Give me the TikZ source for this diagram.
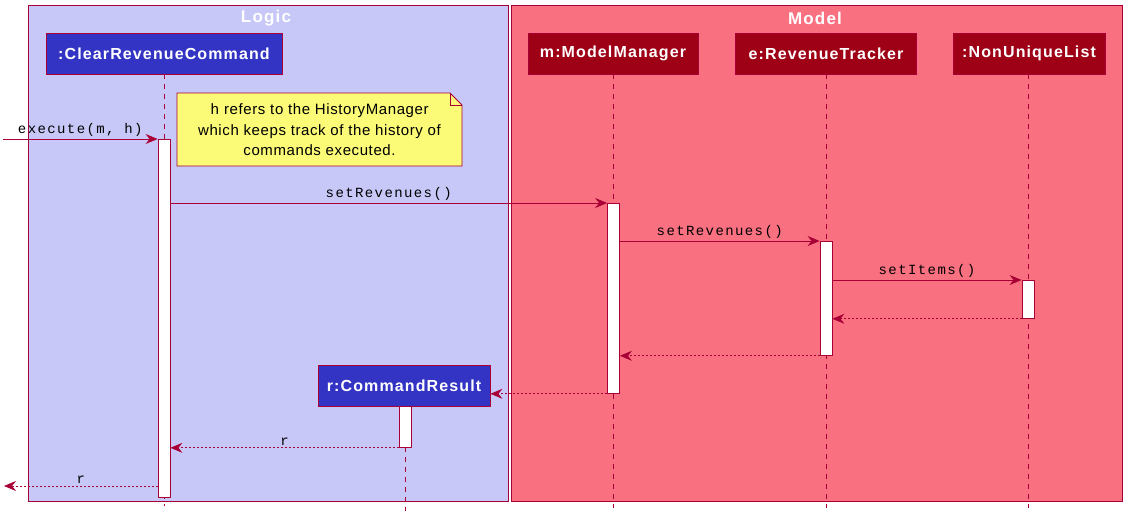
\documentclass[tikz,border=0pt]{standalone}
\usepackage{fontspec}
\setmainfont{Liberation Sans}
\newfontfamily\msgfont[LetterSpace=10]{Liberation Mono}
\newfontfamily\plainmono{Liberation Mono}
\newfontfamily\partfont[LetterSpace=7]{Liberation Sans}
\newfontfamily\notefont[LetterSpace=4]{Liberation Sans}
\usetikzlibrary{arrows.meta}
\definecolor{crim}{HTML}{A80036}
\definecolor{logicbg}{HTML}{C8C8F8}
\definecolor{modelbg}{HTML}{F97181}
\definecolor{partblue}{HTML}{3333C4}
\definecolor{partred}{HTML}{9E0016}
\definecolor{notey}{HTML}{FBFB77}
\tikzset{
  grp/.style={draw=crim, line width=0.8pt},
  grptitle/.style={text=white, font=\partfont\fontsize{17}{19}\selectfont\bfseries, inner sep=0pt},
  part/.style={draw=crim, line width=0.8pt, text=white, font=\partfont\fontsize{16}{18}\selectfont\bfseries, minimum height=41pt, inner sep=0pt},
  life/.style={draw=crim, line width=0.7pt, dash pattern=on 5pt off 5pt},
  act/.style={draw=crim, fill=white, line width=0.8pt, minimum width=12pt, inner sep=0pt, anchor=north},
  tip/.style={-{Stealth[length=12pt,width=10pt,inset=4pt]}},
  msg/.style={draw=crim, line width=0.8pt, tip},
  ret/.style={draw=crim, line width=0.8pt, tip, dash pattern=on 2pt off 2pt},
  lbl/.style={font=\msgfont\fontsize{14}{16}\selectfont, inner sep=2pt, text=black},
  notetext/.style={font=\notefont\fontsize{15}{20.5}\selectfont, align=center, inner sep=0pt}
}
\begin{document}
\begin{tikzpicture}[x=1pt,y=-1pt]
\useasboundingbox (0,0) rectangle (1135,522);
% groups
\path[grp, fill=logicbg] (28,5) rectangle (508,501);
\path[grp, fill=modelbg] (511,5) rectangle (1122,501);
\node[grptitle] (tlogic) at (266,18) {Logic};
\node[grptitle] (tmodel) at (815,18) {Model};
% participants
\node[part, fill=partblue, minimum width=236pt] (crc) at (164,53.5) {:ClearRevenueCommand};
\node[part, fill=partred, minimum width=170pt] (mm) at (613,53.5) {m:ModelManager};
\node[part, fill=partred, minimum width=181pt] (rt) at (826,53.5) {e:RevenueTracker};
\node[part, fill=partred, minimum width=152pt] (nul) at (1029,53.5) {:NonUniqueList};
\node[part, fill=partblue, minimum width=172pt] (cr) at (404,386) {r:CommandResult};
% lifeline ends
\coordinate (crcend) at (164,506);
\coordinate (mmend) at (613,508);
\coordinate (rtend) at (826,508);
\coordinate (nulend) at (1028,508);
\coordinate (crend) at (405,511);
\draw[life] (crc.south) -- (crcend);
\draw[life] (mm.south) -- (mmend);
\draw[life] (rt.south) -- (rtend);
\draw[life] (nul.south -| nulend) -- (nulend);
\draw[life] (cr.south -| crend) -- (crend);
% activations
\node[act, minimum height=358pt] (a1) at (164,139) {};
\node[act, minimum height=190pt] (a2) at (613.5,203) {};
\node[act, minimum height=114pt] (a3) at (826,241) {};
\node[act, minimum height=38pt] (a4) at (1028,280) {};
\node[act, minimum height=41pt] (a5) at (405,406) {};
% note
\path[draw=crim, fill=notey, line width=0.8pt] (177,93) -- (450,93) -- (462,105) -- (462,166) -- (177,166) -- cycle;
\draw[crim, line width=0.8pt] (450,93) -- (450,105) -- (462,105);
\node[notetext] (note) at (319.5,130) {{\plainmono h} refers to the HistoryManager\\which keeps track of the history of\\commands executed.};
% messages
\coordinate (start) at (3,139);
\coordinate (finish) at (4,486);
\draw[msg] (start) -- node[lbl, above] {execute(m, h)} (a1.north west);
\draw[msg] (a1.east |- a2.north) -- node[lbl, above] {setRevenues()} (a2.north west);
\draw[msg] (a2.east |- a3.north) -- node[lbl, above] {setRevenues()} (a3.north west);
\draw[msg] (a3.east |- a4.north) -- node[lbl, above] {setItems()} (a4.north west);
\draw[ret] (a4.south west) -- (a3.east |- a4.south);
\draw[ret] (a3.south west) -- (a2.east |- a3.south);
\draw[ret] (a2.south west) -- (cr.east |- a2.south);
\draw[ret] (a5.south west) -- node[lbl, above] {r} (a1.east |- a5.south);
\draw[ret] (a1.west |- finish) -- node[lbl, above] {r} (finish);
\end{tikzpicture}
\end{document}
